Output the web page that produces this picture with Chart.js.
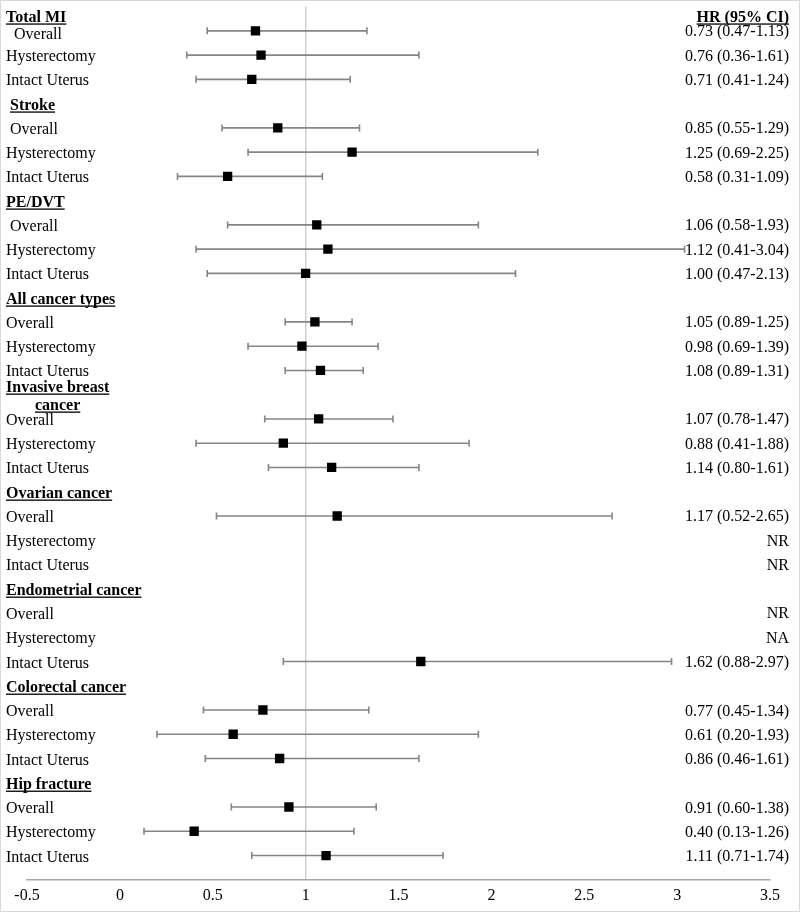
<!DOCTYPE html>
<html>
<head>
<meta charset="utf-8">
<script src="https://cdn.jsdelivr.net/npm/chart.js@4/dist/chart.umd.min.js"></script>
<style>
  html, body { margin: 0; padding: 0; background: #fff; }
  #wrap { width: 800px; height: 912px; position: relative; }
  canvas { display: block; }
</style>
</head>
<body>
<div id="wrap"><canvas id="c" width="800" height="912"></canvas></div>
<script>
// ---------- DATA ----------
const rowLabels = [
  "Total MI", "  Overall", "Hysterectomy", "Intact Uterus",
  " Stroke", " Overall", "Hysterectomy", "Intact Uterus",
  "PE/DVT", " Overall", "Hysterectomy", "Intact Uterus",
  "All cancer types", "Overall", "Hysterectomy", "Intact Uterus",
  "Invasive breast\ncancer", "Overall", "Hysterectomy", "Intact Uterus",
  "Ovarian cancer", "Overall", "Hysterectomy", "Intact Uterus",
  "Endometrial cancer", "Overall", "Hysterectomy", "Intact Uterus",
  "Colorectal cancer", "Overall", "Hysterectomy", "Intact Uterus",
  "Hip fracture", "Overall", "Hysterectomy", "Intact Uterus"
];
const headerRows = [0, 4, 8, 12, 16, 20, 24, 28, 32];

const hr = [
  null, 0.73, 0.76, 0.71,
  null, 0.85, 1.25, 0.58,
  null, 1.06, 1.12, 1.00,
  null, 1.05, 0.98, 1.08,
  null, 1.07, 0.88, 1.14,
  null, 1.17, null, null,
  null, null, null, 1.62,
  null, 0.77, 0.61, 0.86,
  null, 0.91, 0.40, 1.11
];
const ciLow = [
  null, 0.47, 0.36, 0.41,
  null, 0.55, 0.69, 0.31,
  null, 0.58, 0.41, 0.47,
  null, 0.89, 0.69, 0.89,
  null, 0.78, 0.41, 0.80,
  null, 0.52, null, null,
  null, null, null, 0.88,
  null, 0.45, 0.20, 0.46,
  null, 0.60, 0.13, 0.71
];
// upper whisker ends as drawn in the picture
const ciHigh = [
  null, 1.33, 1.61, 1.24,
  null, 1.29, 2.25, 1.09,
  null, 1.93, 3.04, 2.13,
  null, 1.25, 1.39, 1.31,
  null, 1.47, 1.88, 1.61,
  null, 2.65, null, null,
  null, null, null, 2.97,
  null, 1.34, 1.93, 1.61,
  null, 1.38, 1.26, 1.74
];
const hrHeader = "HR (95% CI)";
const hrText = [
  "", "0.73 (0.47-1.13)", "0.76 (0.36-1.61)", "0.71 (0.41-1.24)",
  "", "0.85 (0.55-1.29)", "1.25 (0.69-2.25)", "0.58 (0.31-1.09)",
  "", "1.06 (0.58-1.93)", "1.12 (0.41-3.04)", "1.00 (0.47-2.13)",
  "", "1.05 (0.89-1.25)", "0.98 (0.69-1.39)", "1.08 (0.89-1.31)",
  "", "1.07 (0.78-1.47)", "0.88 (0.41-1.88)", "1.14 (0.80-1.61)",
  "", "1.17 (0.52-2.65)", "NR", "NR",
  "", "NR", "NA", "1.62 (0.88-2.97)",
  "", "0.77 (0.45-1.34)", "0.61 (0.20-1.93)", "0.86 (0.46-1.61)",
  "", "0.91 (0.60-1.38)", "0.40 (0.13-1.26)", "1.11 (0.71-1.74)"
];
const xTicksMin = -0.5, xTicksMax = 3.5, xTickStep = 0.5;
const refLine = 1;

// ---------- CHART ----------
const FONT = "'Liberation Serif', 'Times New Roman', serif";
const points = [];
hr.forEach((v, i) => { if (v !== null) points.push({ x: v, y: i }); });

const forestPlugin = {
  id: 'forest',
  beforeDraw(chart) {
    const ctx = chart.ctx;
    ctx.save();
    ctx.fillStyle = '#fff';
    ctx.fillRect(0, 0, chart.width, chart.height);
    ctx.restore();
  },
  beforeDatasetsDraw(chart) {
    const ctx = chart.ctx, xs = chart.scales.x, ys = chart.scales.y;
    ctx.save();
    ctx.strokeStyle = '#858585';
    ctx.lineWidth = 1.6;
    for (let i = 0; i < rowLabels.length; i++) {
      if (ciLow[i] === null || ciHigh[i] === null) continue;
      const y = ys.getPixelForValue(i);
      const x0 = xs.getPixelForValue(ciLow[i]);
      const x1 = xs.getPixelForValue(ciHigh[i]);
      ctx.beginPath();
      ctx.moveTo(x0, y); ctx.lineTo(x1, y);
      ctx.moveTo(x0, y - 3.5); ctx.lineTo(x0, y + 3.5);
      ctx.moveTo(x1, y - 3.5); ctx.lineTo(x1, y + 3.5);
      ctx.stroke();
    }
    ctx.restore();
  },
  afterDraw(chart) {
    const ctx = chart.ctx, ys = chart.scales.y, area = chart.chartArea;
    ctx.save();
    ctx.fillStyle = '#000';
    ctx.strokeStyle = '#000';
    const leftX = 6, rightX = 789;
    const underline = (x, baseY, w) => {
      ctx.fillRect(x, baseY + 1.8, w, 1.3);
    };
    for (let i = 0; i < rowLabels.length; i++) {
      const py = ys.getPixelForValue(i);
      const isHead = headerRows.includes(i);
      let base = Math.max(py + 6, area.top + 15);
      if (i === 1) base += 2;
      const label = rowLabels[i];
      if (isHead) {
        ctx.font = 'bold 16px ' + FONT;
        ctx.textAlign = 'left';
        ctx.textBaseline = 'alphabetic';
        const lines = label.split('\n');
        if (lines.length > 1) base = py - 3;
        const firstTrim = lines[0].replace(/^\s+/, '');
        const lead = ctx.measureText(lines[0].slice(0, lines[0].length - firstTrim.length)).width;
        const firstW = ctx.measureText(firstTrim).width;
        const center = leftX + lead + firstW / 2;
        lines.forEach((ln, k) => {
          const t = ln.replace(/^\s+/, '');
          const w = ctx.measureText(t).width;
          const x = k === 0 ? leftX + lead : center - w / 2;
          const b = base + k * 18;
          ctx.fillText(t, x, b);
          underline(x, b, w);
        });
      } else {
        ctx.font = '16px ' + FONT;
        ctx.textAlign = 'left';
        ctx.textBaseline = 'alphabetic';
        ctx.fillText(label, leftX, base);
      }
      // right column
      ctx.textAlign = 'right';
      if (i === 0) {
        ctx.font = 'bold 16px ' + FONT;
        const w = ctx.measureText(hrHeader).width;
        const b = Math.max(py + 5.5, area.top + 15);
        ctx.fillText(hrHeader, rightX, b);
        underline(rightX - w, b, w);
      } else if (hrText[i]) {
        ctx.font = '16px ' + FONT;
        ctx.fillText(hrText[i], rightX, py + 5.5);
      }
    }
    // outer frame
    ctx.strokeStyle = '#d9d9d9';
    ctx.lineWidth = 1;
    ctx.strokeRect(0.5, 0.5, chart.width - 1, chart.height - 1);
    ctx.restore();
  }
};

new Chart(document.getElementById('c'), {
  type: 'scatter',
  data: {
    datasets: [{
      data: points,
      pointStyle: 'rect',
      pointRadius: 6.6,
      pointHoverRadius: 6.6,
      backgroundColor: '#000',
      borderColor: '#000',
      borderWidth: 0
    }]
  },
  options: {
    responsive: false,
    animation: false,
    events: [],
    layout: { padding: { top: 3, left: 27, right: 30, bottom: 1 } },
    plugins: { legend: { display: false }, tooltip: { enabled: false } },
    scales: {
      x: {
        type: 'linear',
        position: 'bottom',
        min: xTicksMin,
        max: xTicksMax,
        ticks: {
          stepSize: xTickStep,
          autoSkip: false,
          maxRotation: 0,
          padding: 6,
          color: '#000',
          font: { family: FONT, size: 16 },
          callback: (v) => String(v)
        },
        grid: {
          drawTicks: false,
          lineWidth: 1.5,
          color: (c) => (c.tick && c.tick.value === refLine) ? '#cfcfcf' : 'rgba(0,0,0,0)'
        },
        border: { display: true, color: '#a6a6a6', width: 1.6 }
      },
      y: {
        type: 'linear',
        display: false,
        reverse: true,
        min: 0,
        max: 36
      }
    }
  },
  plugins: [forestPlugin]
});
</script>
</body>
</html>
